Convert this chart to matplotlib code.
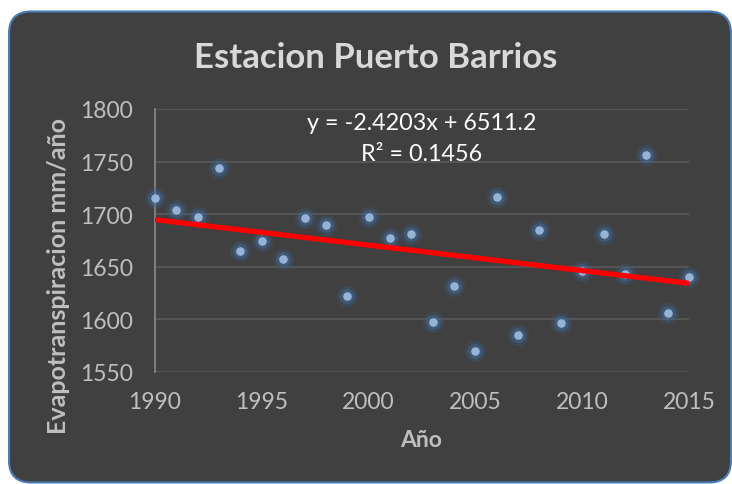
import matplotlib
matplotlib.use("Agg")
import matplotlib.pyplot as plt
from matplotlib.patches import FancyBboxPatch
import numpy as np

plt.rcParams['font.family'] = ['Lato', 'DejaVu Sans']

# Annual evapotranspiration, Puerto Barrios station
years = [1990, 1991, 1992, 1993, 1994, 1995, 1996, 1997, 1998, 1999,
         2000, 2001, 2002, 2003, 2004, 2005, 2006, 2007, 2008, 2009,
         2010, 2011, 2012, 2013, 2014, 2015]
evapo = [1715, 1704, 1697, 1744, 1665, 1675, 1657, 1696, 1690, 1622,
         1697, 1677, 1681, 1598, 1632, 1570, 1716, 1585, 1685, 1597,
         1646, 1681, 1643, 1756, 1606, 1640]

# Linear trend as reported on the chart
slope = -2.4203
intercept = 6511.2
r2 = 0.1456

x_ticks = [1990, 1995, 2000, 2005, 2010, 2015]
y_ticks = [1550, 1600, 1650, 1700, 1750, 1800]

W, H = 732, 485
fig = plt.figure(figsize=(W / 100, H / 100), dpi=100)
fig.patch.set_facecolor('white')

# Rounded dark chart frame
frame = FancyBboxPatch((9 / 100, 1.5 / 100), (731 - 9) / 100, (483 - 12) / 100,
                       boxstyle="round,pad=0,rounding_size=0.22",
                       transform=fig.dpi_scale_trans,
                       facecolor='#404040', edgecolor='#4A7EBB', linewidth=1.5,
                       zorder=-10)
fig.patches.append(frame)

ax = fig.add_axes([155 / W, 1 - 373 / H, (689 - 155) / W, (373 - 110) / H])
ax.set_facecolor('none')
ax.set_zorder(5)

ax.set_xlim(1990, 2015)
ax.set_ylim(1550, 1800)
ax.set_xticks(x_ticks)
ax.set_yticks(y_ticks)
ax.tick_params(length=0, colors='#BFBFBF', labelsize=16.5)
ax.tick_params(axis='x', pad=14)
ax.tick_params(axis='y', pad=16)

ax.grid(axis='y', color='#5A5A5A', linewidth=1.2)
ax.set_axisbelow(True)
for side in ['top', 'right', 'bottom']:
    ax.spines[side].set_visible(False)
ax.spines['left'].set_color('#8A8A8A')
ax.spines['left'].set_linewidth(1.2)

# Markers with a soft glow
ax.scatter(years, evapo, s=230, color='#3A5E8C', alpha=0.30, linewidths=0, zorder=3, clip_on=False)
ax.scatter(years, evapo, s=110, color='#4A73A8', alpha=0.40, linewidths=0, zorder=3, clip_on=False)
ax.scatter(years, evapo, s=38, color='#95B3D7', linewidths=0, zorder=4, clip_on=False)

# Trend line
xt = np.array([x_ticks[0], x_ticks[-1]], dtype=float)
ax.plot(xt, slope * xt + intercept, color='#FF0000', linewidth=3.8,
        solid_capstyle='butt', zorder=5)

ax.text(0.50, 0.95, f"y = {slope}x + {intercept}", transform=ax.transAxes,
        ha='center', va='center', color='white', fontsize=16.8, zorder=6)
ax.text(0.50, 0.83, f"R² = {r2}", transform=ax.transAxes,
        ha='center', va='center', color='white', fontsize=16.8, zorder=6)

fig.text(376 / W, 1 - 58 / H, "Estacion Puerto Barrios", ha='center', va='center',
         color='#D9D9D9', fontsize=25, fontweight='bold')
fig.text(421 / W, 1 - 441 / H, "Año", ha='center', va='center',
         color='#BFBFBF', fontsize=16.5, fontweight='bold')
fig.text(59 / W, 1 - 276 / H, "Evapotranspiracion mm/año", ha='center', va='center',
         rotation=90, color='#BFBFBF', fontsize=18, fontweight='bold')

fig.savefig('out.png', dpi=100, facecolor='white')
